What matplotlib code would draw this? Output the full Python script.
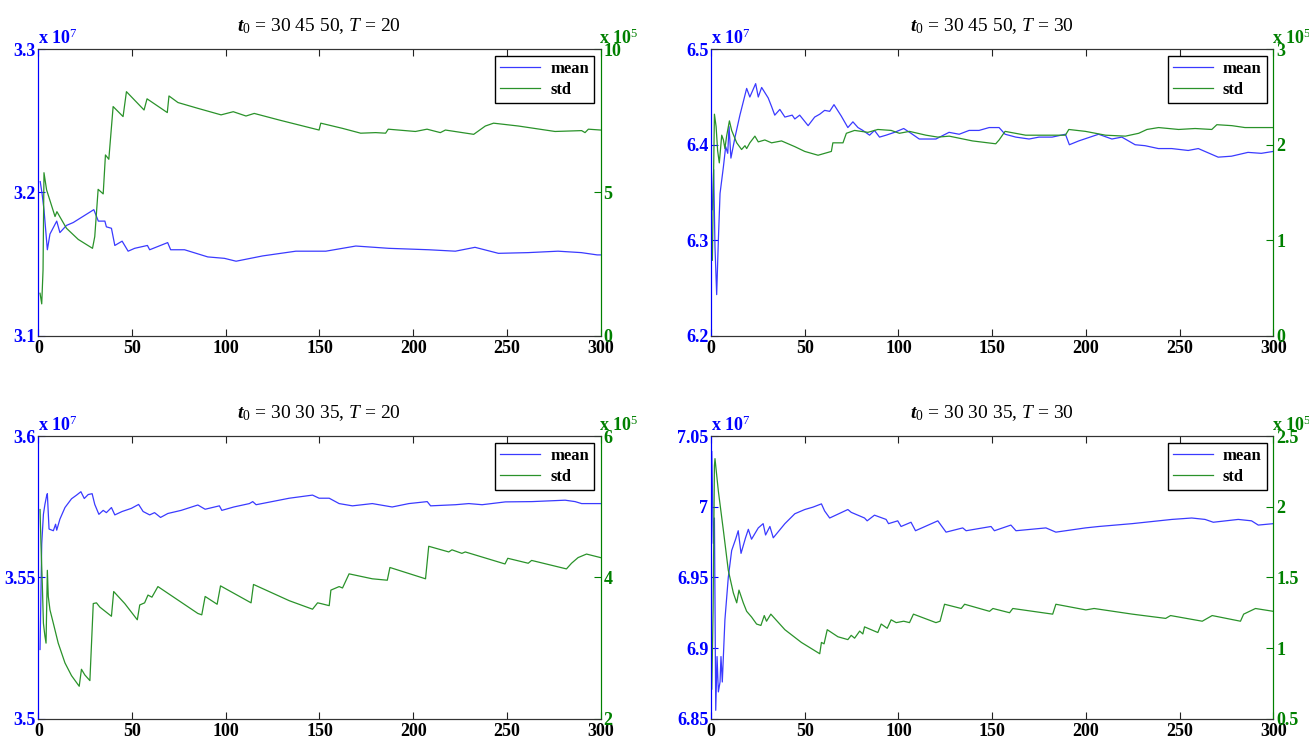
import matplotlib
matplotlib.use('Agg')
import matplotlib.pyplot as plt

plt.rcParams['font.family'] = 'Liberation Serif'
plt.rcParams['mathtext.fontset'] = 'custom'
plt.rcParams['mathtext.rm'] = 'Liberation Serif'
plt.rcParams['mathtext.it'] = 'Liberation Serif:italic'
plt.rcParams['mathtext.bf'] = 'Liberation Serif:bold'
plt.rcParams['mathtext.bfit'] = 'Liberation Serif:italic:bold'

# values: (iteration, value); mean in 1e7, std in 1e5
tl_mean = [(1, 3.2076), (2, 3.199), (3, 3.188), (4.8, 3.160), (6.2, 3.171), (9.8, 3.180),
           (11.5, 3.172), (15, 3.177), (18.6, 3.179), (29.6, 3.188), (32, 3.180), (35.5, 3.180),
           (36.3, 3.176), (39, 3.175), (40.8, 3.163), (44.7, 3.166), (47.9, 3.159), (51.4, 3.161),
           (58.2, 3.163), (59.4, 3.160), (69, 3.165), (70.6, 3.160), (78, 3.160), (90.4, 3.155),
           (99.3, 3.154), (105.5, 3.152), (119.7, 3.1557), (137.4, 3.159), (153.4, 3.159),
           (169.4, 3.1626), (187, 3.161), (208.3, 3.160), (222.5, 3.159), (233, 3.1617),
           (245.5, 3.1575), (261.4, 3.158), (277.3, 3.159), (289.7, 3.158), (298.2, 3.1564),
           (300, 3.1564)]
tl_std = [(0.9, 1.48), (1.8, 1.11), (2.5, 2.29), (3, 5.69), (4.4, 5.09), (8.9, 4.16), (9.9, 4.33),
          (15, 3.75), (21.3, 3.36), (28.9, 3.05), (30.1, 3.46), (31.9, 5.11), (34.6, 4.95),
          (35.8, 6.31), (37.6, 6.16), (39.9, 8.00), (45.2, 7.65), (47, 8.52), (56.4, 7.88),
          (58, 8.27), (68.8, 7.79), (69.7, 8.37), (74.5, 8.14), (85, 7.94), (97.5, 7.71),
          (104, 7.82), (110.8, 7.67), (115.2, 7.76), (128.5, 7.53), (149.8, 7.18), (150.7, 7.42),
          (162.2, 7.24), (172, 7.07), (180, 7.09), (185.3, 7.07), (186.7, 7.21), (201.2, 7.13),
          (207.4, 7.21), (214.5, 7.09), (217.2, 7.18), (232.3, 7.03), (238.5, 7.32), (242.9, 7.42),
          (256.2, 7.32), (275.7, 7.13), (289.9, 7.16), (291.7, 7.09), (293.5, 7.21), (300, 7.18)]

tr_mean = [(0.7, 6.332), (1.4, 6.374), (2.1, 6.293), (3, 6.243), (3.9, 6.300), (4.8, 6.349),
           (6.6, 6.377), (7.8, 6.398), (8.9, 6.391), (9.6, 6.419), (10.6, 6.386), (12.8, 6.408),
           (15.4, 6.431), (19, 6.459), (20.7, 6.450), (23.8, 6.464), (25.2, 6.450), (27, 6.460),
           (30.5, 6.449), (32.3, 6.440), (34, 6.431), (36.7, 6.437), (39.4, 6.429), (43.3, 6.431),
           (44.7, 6.427), (47.3, 6.431), (51.8, 6.420), (55.3, 6.429), (58, 6.432), (60.6, 6.436),
           (63.3, 6.435), (65.6, 6.442), (69.5, 6.430), (73, 6.418), (75.7, 6.424), (78.4, 6.418),
           (81, 6.415), (84.6, 6.410), (87.2, 6.415), (89.9, 6.408), (93.4, 6.410), (97.9, 6.413),
           (102.8, 6.417), (106.7, 6.412), (111.1, 6.406), (120, 6.406), (127, 6.413),
           (132.4, 6.411), (137.7, 6.415), (143, 6.415), (148.4, 6.418), (153.7, 6.418),
           (156.9, 6.411), (162.6, 6.408), (169.7, 6.406), (175, 6.408), (182, 6.408),
           (189.1, 6.411), (191.2, 6.400), (196.2, 6.404), (206.8, 6.411), (213.9, 6.406),
           (219.2, 6.408), (226.3, 6.400), (231.6, 6.399), (238.7, 6.396), (245.8, 6.396),
           (254.6, 6.394), (260, 6.396), (270.6, 6.387), (277.7, 6.388), (286.5, 6.392),
           (293.6, 6.391), (300, 6.393)]
tr_std = [(0.7, 0.79), (1.2, 1.49), (1.8, 2.32), (2.7, 2.19), (3.5, 1.94), (4.4, 1.81), (5.7, 2.10),
          (6.6, 2.05), (7.4, 1.96), (8.3, 2.09), (9.8, 2.25), (11, 2.15), (13.7, 2.02), (16.3, 1.95),
          (18.1, 1.99), (19, 1.96), (20.7, 2.02), (23.4, 2.09), (25.2, 2.03), (28.7, 2.05),
          (32.3, 2.02), (37.6, 2.04), (44.7, 1.98), (50, 1.93), (57.1, 1.89), (64.2, 1.93),
          (65, 2.02), (70.4, 2.02), (72.2, 2.12), (76.6, 2.15), (80.1, 2.14), (83.7, 2.13),
          (89, 2.16), (96.1, 2.15), (100.5, 2.12), (105.9, 2.14), (114.7, 2.10), (121, 2.08),
          (127.1, 2.09), (139.5, 2.04), (151.9, 2.01), (153.7, 2.05), (156.9, 2.14), (167.9, 2.10),
          (178.5, 2.10), (189.1, 2.10), (190.9, 2.16), (199.8, 2.14), (210.5, 2.10), (221.1, 2.09),
          (228.2, 2.12), (232.6, 2.16), (238.8, 2.18), (249.5, 2.16), (258.3, 2.17), (267.2, 2.16),
          (269.9, 2.21), (277.9, 2.20), (284.9, 2.18), (300, 2.18)]

bl_mean = [(0.9, 3.5245), (1.8, 3.5618), (2.7, 3.5723), (3.5, 3.5758), (4.4, 3.5788), (4.8, 3.5796),
           (5.7, 3.5671), (8, 3.5665), (9.2, 3.5688), (9.8, 3.5667), (11.5, 3.5706), (14.2, 3.5747),
           (17.7, 3.5778), (20.4, 3.5791), (22.7, 3.5803), (24.5, 3.5779), (26.6, 3.5793),
           (28.7, 3.5796), (30.1, 3.5758), (32.3, 3.5723), (34.6, 3.5737), (36.3, 3.5729),
           (39, 3.5747), (40.8, 3.5721), (44.7, 3.5733), (49.6, 3.5744), (53.5, 3.5758),
           (55.9, 3.5733), (59.4, 3.5721), (62, 3.5729), (65.2, 3.5712), (69.1, 3.5726),
           (76.2, 3.5737), (85.1, 3.5756), (89, 3.5741), (96.6, 3.5753), (97.9, 3.5737),
           (104.3, 3.5749), (112.6, 3.5761), (114.4, 3.5768), (116.2, 3.5757), (133.9, 3.5780),
           (146.3, 3.5791), (149.8, 3.5780), (155.2, 3.5780), (160.5, 3.5761), (167.6, 3.5753),
           (178.2, 3.5761), (188.8, 3.5749), (197.7, 3.5761), (207.5, 3.5768), (209.3, 3.5753),
           (222.6, 3.5757), (229.7, 3.5761), (236.8, 3.5757), (249.2, 3.5767), (263.4, 3.5768),
           (281.1, 3.5773), (286.4, 3.5768), (289.9, 3.5761), (300, 3.5761)]
bl_std = [(0.9, 4.96), (1.4, 4.47), (2.1, 3.91), (2.7, 3.35), (3.5, 3.17), (4.1, 3.07), (4.8, 4.10),
          (5.3, 3.73), (6.2, 3.54), (8, 3.35), (10.6, 3.07), (14.2, 2.79), (17.7, 2.61), (21.8, 2.46),
          (23, 2.70), (24.8, 2.62), (27.5, 2.54), (29.3, 3.63), (31, 3.64), (32.8, 3.58), (39, 3.45),
          (40.2, 3.80), (46.1, 3.63), (52.8, 3.40), (54.1, 3.61), (56.7, 3.64), (58.5, 3.75),
          (60.6, 3.72), (63.8, 3.87), (85.1, 3.49), (87.2, 3.47), (89, 3.73), (95.4, 3.62),
          (97.2, 3.88), (113.5, 3.64), (114.8, 3.90), (133.9, 3.67), (146.3, 3.55), (149, 3.64),
          (150.7, 3.63), (155.2, 3.60), (156.1, 3.82), (160.5, 3.87), (162.3, 3.85), (165.8, 4.05),
          (178.2, 3.98), (186.2, 3.96), (187.6, 4.14), (206.6, 3.98), (208.3, 4.44), (219, 4.36),
          (220.7, 4.39), (226, 4.34), (227.8, 4.36), (249, 4.19), (250.5, 4.27), (261.4, 4.20),
          (263.2, 4.24), (281.8, 4.12), (284.5, 4.20), (288, 4.28), (292.5, 4.33), (300, 4.28)]

br_mean = [(0.4, 7.039), (1.2, 6.974), (1.8, 6.992), (2.5, 6.856), (3.2, 6.894), (3.9, 6.869),
           (4.8, 6.876), (5.3, 6.894), (6, 6.876), (7.4, 6.920), (9.2, 6.950), (11, 6.969),
           (13.1, 6.977), (14.5, 6.983), (16, 6.967), (18.4, 6.978), (19.9, 6.984), (21.6, 6.977),
           (25.2, 6.985), (27.8, 6.988), (29.1, 6.980), (31.4, 6.986), (33.2, 6.978), (39.4, 6.988),
           (44.7, 6.995), (50, 6.998), (54.4, 6.9997), (58.9, 7.002), (60.6, 6.997), (63.3, 6.992),
           (73, 6.998), (74.8, 6.996), (81.9, 6.992), (83.3, 6.990), (87.2, 6.994), (93.4, 6.991),
           (94.7, 6.988), (99.6, 6.990), (101.4, 6.986), (106.7, 6.989), (109.1, 6.983),
           (121, 6.990), (125.4, 6.982), (134.3, 6.985), (136.1, 6.983), (149.4, 6.986),
           (151.2, 6.983), (160, 6.987), (162.7, 6.983), (178.7, 6.985), (184, 6.982),
           (199.8, 6.985), (206.9, 6.986), (224.6, 6.988), (245.9, 6.991), (256.5, 6.992),
           (263.6, 6.991), (268, 6.989), (281.3, 6.991), (288.4, 6.990), (292, 6.987), (300, 6.988)]
br_std = [(0.4, 0.71), (1.1, 1.27), (1.8, 2.29), (2.1, 2.34), (3.9, 2.11), (6.6, 1.83), (9.2, 1.55),
          (11.9, 1.39), (13.7, 1.32), (14.9, 1.41), (17.2, 1.32), (19, 1.26), (21.6, 1.22),
          (24.3, 1.17), (26.6, 1.16), (28.4, 1.23), (29.6, 1.19), (31.9, 1.24), (39.4, 1.13),
          (48.2, 1.04), (58, 0.96), (58.9, 1.04), (60.3, 1.03), (62, 1.13), (67.7, 1.08), (73, 1.06),
          (74.8, 1.09), (76.6, 1.07), (79.3, 1.12), (81, 1.10), (81.9, 1.15), (89, 1.11), (90.8, 1.17),
          (94, 1.14), (96.1, 1.20), (98.8, 1.18), (102.8, 1.19), (105.9, 1.18), (108, 1.24),
          (120, 1.18), (122.2, 1.19), (124.6, 1.31), (133.5, 1.28), (135.3, 1.31), (148.6, 1.26),
          (150.4, 1.28), (159.3, 1.25), (161, 1.28), (182.3, 1.24), (184, 1.31), (200, 1.27),
          (204.4, 1.28), (224.8, 1.24), (242.6, 1.21), (245.2, 1.23), (262.1, 1.19), (267.4, 1.23),
          (282.5, 1.19), (284.2, 1.24), (290.5, 1.28), (300, 1.26)]

titles = [r'$\mathbfit{t}_{0}$ = 30 45 50, $\mathit{T}$ = 20',
          r'$\mathbfit{t}_{0}$ = 30 45 50, $\mathit{T}$ = 30',
          r'$\mathbfit{t}_{0}$ = 30 30 35, $\mathit{T}$ = 20',
          r'$\mathbfit{t}_{0}$ = 30 30 35, $\mathit{T}$ = 30']
left_ticks = [[3.1, 3.2, 3.3], [6.2, 6.3, 6.4, 6.5], [3.5, 3.55, 3.6], [6.85, 6.9, 6.95, 7.0, 7.05]]
right_ticks = [[0, 5, 10], [0, 1, 2, 3], [2, 4, 6], [0.5, 1, 1.5, 2, 2.5]]
x_ticks = [0, 50, 100, 150, 200, 250, 300]

BLUE = '#0000ff'
GREEN = '#008000'
LINE_BLUE = '#3a3aff'
LINE_GREEN = '#2a922a'

positions = [[0.0293, 0.547, 0.4295, 0.3865],
             [0.5432, 0.547, 0.4295, 0.3865],
             [0.0293, 0.030, 0.4295, 0.3816],
             [0.5432, 0.030, 0.4295, 0.3816]]

fig = plt.figure(figsize=(13.09, 7.41), dpi=100)

series = [(tl_mean, tl_std), (tr_mean, tr_std), (bl_mean, bl_std), (br_mean, br_std)]
tick_font = dict(family='Liberation Serif', weight='bold', size=13)

for i in range(4):
    mean, std = series[i]
    ax = fig.add_axes(positions[i])
    ax2 = ax.twinx()

    l1, = ax.plot([p[0] for p in mean], [p[1] for p in mean], color=LINE_BLUE, lw=0.9)
    l2, = ax2.plot([p[0] for p in std], [p[1] for p in std], color=LINE_GREEN, lw=0.9)

    ax.set_xlim(0, 300)
    ax.set_ylim(left_ticks[i][0], left_ticks[i][-1])
    ax2.set_ylim(right_ticks[i][0], right_ticks[i][-1])

    ax.set_xticks(x_ticks)
    ax.set_xticklabels([str(v) for v in x_ticks], fontdict=tick_font)
    ax.set_yticks(left_ticks[i])
    ax.set_yticklabels(['%g' % v for v in left_ticks[i]], fontdict=tick_font, color=BLUE)
    ax2.set_yticks(right_ticks[i])
    ax2.set_yticklabels(['%g' % v for v in right_ticks[i]], fontdict=tick_font, color=GREEN)

    ax.tick_params(axis='x', direction='in', top=True, length=5, pad=3, colors='#222222')
    ax.tick_params(axis='x', labelcolor='black')
    ax.tick_params(axis='y', direction='in', length=5, pad=2, colors=BLUE)
    ax2.tick_params(axis='y', direction='in', length=5, pad=2, colors=GREEN)

    for a in (ax, ax2):
        a.spines['left'].set_color(BLUE)
        a.spines['right'].set_color(GREEN)
        a.spines['top'].set_color('#333333')
        a.spines['bottom'].set_color('#333333')

    ax.set_title(titles[i], fontsize=14, pad=13)

    ax.text(0.0, 1.005, r'x 10$^{7}$', transform=ax.transAxes, ha='left', va='bottom',
            color=BLUE, fontsize=13, fontweight='bold')
    ax2.text(0.997, 1.005, r'x 10$^{5}$', transform=ax2.transAxes, ha='left', va='bottom',
             color=GREEN, fontsize=13, fontweight='bold')

    leg = ax2.legend([l1, l2], ['mean', 'std'], loc='upper right',
                     prop=dict(family='Liberation Serif', weight='bold', size=12),
                     fancybox=False, framealpha=1, edgecolor='black',
                     borderaxespad=0.4, handlelength=2.4, labelspacing=0.3,
                     borderpad=0.3, handletextpad=0.6)
    leg.get_frame().set_linewidth(1.0)

fig.savefig('out.png', dpi=100)
